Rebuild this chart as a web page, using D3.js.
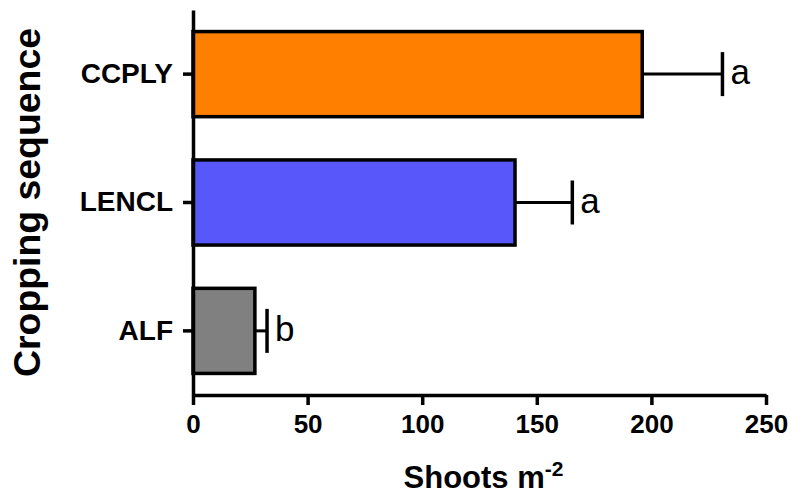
<!DOCTYPE html>
<html>
<head>
<meta charset="utf-8">
<script src="https://cdn.jsdelivr.net/npm/d3@7"></script>
<style>
  html, body { margin: 0; padding: 0; background: #fff; }
  svg { display: block; font-family: "Liberation Sans", Arial, sans-serif; }
</style>
</head>
<body>
<svg id="chart" width="791" height="497"></svg>
<script>
// data
const categories = ['CCPLY', 'LENCL', 'ALF'];
const means = [196, 140.5, 27];
const errors = [35, 25, 5.3];
const letters = ['a', 'a', 'b'];
const colors = ['#ff7f00', '#5858fa', '#808080'];
const xTicks = [0, 50, 100, 150, 200, 250];

const svg = d3.select('#chart');

const x = d3.scaleLinear().domain([0, 250]).range([193, 766]);
const y = d3.scaleBand()
    .domain(categories)
    .range([10, 395])
    .paddingInner(0.337)
    .paddingOuter(0.168);

const rows = categories.map((c, i) => ({
    cat: c, mean: means[i], err: errors[i], letter: letters[i], color: colors[i]
}));

// bars
svg.append('g').selectAll('rect')
    .data(rows)
    .enter().append('rect')
    .attr('x', x(0))
    .attr('y', d => y(d.cat))
    .attr('width', d => x(d.mean) - x(0))
    .attr('height', y.bandwidth())
    .attr('fill', d => d.color)
    .attr('stroke', '#000')
    .attr('stroke-width', 3.5);

// error bars
const eb = svg.append('g');
rows.forEach(d => {
    const cy = y(d.cat) + y.bandwidth() / 2;
    eb.append('line')
        .attr('x1', x(d.mean)).attr('x2', x(d.mean + d.err))
        .attr('y1', cy).attr('y2', cy)
        .attr('stroke', '#000').attr('stroke-width', 3);
    eb.append('line')
        .attr('x1', x(d.mean + d.err)).attr('x2', x(d.mean + d.err))
        .attr('y1', cy - 22).attr('y2', cy + 22)
        .attr('stroke', '#000').attr('stroke-width', 3.5);
    eb.append('text')
        .attr('x', x(d.mean + d.err) + 8)
        .attr('y', cy + 10)
        .attr('font-size', 35)
        .text(d.letter);
});

// x axis
const xAxis = svg.append('g')
    .attr('transform', `translate(0,${y.range()[1]})`)
    .call(d3.axisBottom(x).tickValues(xTicks).tickSize(10).tickSizeOuter(0));
xAxis.select('.domain').attr('stroke-width', 3.5);
xAxis.selectAll('.tick line').attr('stroke-width', 3.5);
xAxis.selectAll('.tick text')
    .attr('dy', null)
    .attr('y', 38)
    .attr('font-size', 26)
    .attr('font-weight', 'bold')
    .attr('fill', '#000')
    .attr('font-family', null);

// y axis
const yAxis = svg.append('g')
    .attr('transform', `translate(${x(0)},0)`)
    .call(d3.axisLeft(y).tickSize(10).tickSizeOuter(0).tickPadding(10));
yAxis.select('.domain').attr('stroke-width', 3.5);
yAxis.selectAll('.tick line').attr('stroke-width', 3.5);
yAxis.selectAll('.tick text')
    .attr('font-size', 28)
    .attr('font-weight', 'bold')
    .attr('fill', '#000')
    .attr('font-family', null);

// axis titles
const xt = svg.append('text')
    .attr('x', (x.range()[0] + x.range()[1]) / 2 + 4)
    .attr('y', 488)
    .attr('text-anchor', 'middle')
    .attr('font-size', 31)
    .attr('font-weight', 'bold');
xt.append('tspan').text('Shoots m');
xt.append('tspan').attr('dy', -12).attr('font-size', 21).text('-2');

svg.append('text')
    .attr('transform', `translate(40,${(y.range()[0] + y.range()[1]) / 2}) rotate(-90)`)
    .attr('text-anchor', 'middle')
    .attr('font-size', 36)
    .attr('font-weight', 'bold')
    .attr('textLength', 349)
    .attr('lengthAdjust', 'spacingAndGlyphs')
    .text('Cropping sequence');
</script>
</body>
</html>
